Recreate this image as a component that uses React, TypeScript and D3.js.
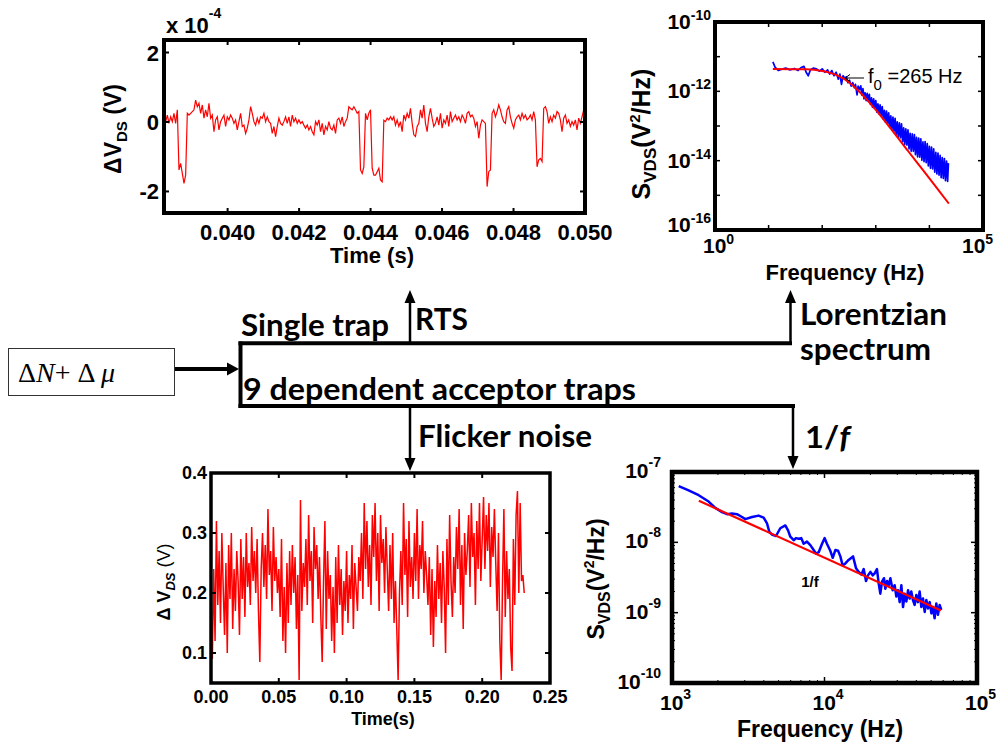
import React from 'react';
import * as d3 from 'd3';

const FONT = '"Liberation Sans", Arial, Helvetica, sans-serif';
const CAL = 'Lato, "Open Sans", sans-serif';

// ---------- Panel A: RTS time trace (values in 1e-4 V) ----------
const rtsT0 = 0.03822;
const rtsDt = 0.0000466;
const rtsValues = [
  0.15, 0.01, 0.20, -0.04, 0.15, 0.01, 0.25, -0.04, 0.35, -1.38,
  -1.19, -1.48, -1.77, -1.53, 0.25, 0.20, 0.25, 0.30, 0.35, 0.63,
  0.44, 0.54, 0.25, 0.49, 0.11, 0.35, 0.15, 0.54, 0.11, 0.20,
  -0.28, 0.06, 0.15, -0.23, 0.01, 0.11, 0.20, -0.13, 0.15, 0.06,
  0.20, 0.11, -0.04, 0.06, -0.23, 0.01, 0.25, -0.13, -0.09, -0.33,
  -0.18, 0.06, 0.44, 0.25, 0.01, -0.09, 0.11, -0.04, 0.15, 0.11,
  0.25, 0.01, 0.15, 0.01, -0.04, -0.33, -0.13, -0.42, -0.13, 0.11,
  -0.04, -0.09, 0.01, 0.15, -0.04, 0.15, -0.13, 0.20, 0.01, 0.11,
  -0.04, 0.06, -0.04, 0.01, -0.09, -0.18, -0.09, -0.23, -0.13, -0.28,
  -0.37, 0.01, -0.09, 0.06, -0.28, -0.04, -0.37, -0.13, -0.23, 0.01,
  -0.18, -0.23, -0.09, -0.33, 0.06, 0.11, -0.04, 0.15, -0.13, 0.01,
  0.11, 0.44, 0.39, 0.35, 0.44, 0.35, 0.25, 0.30, -1.38, -1.48,
  -1.29, 0.25, 0.06, 0.25, 0.35, -1.33, -1.53, -1.53, -1.43, -1.33,
  -1.67, -1.72, 0.05, 0.01, 0.11, 0.06, 0.15, 0.06, 0.15, -0.09,
  0.06, -0.13, 0.01, -0.28, 0.20, 0.06, 0.25, 0.11, 0.39, -0.04,
  -0.37, -0.42, -0.13, -0.04, 0.35, 0.11, 0.49, -0.04, -0.28, 0.15,
  0.39, 0.11, -0.13, -0.04, 0.15, -0.09, 0.25, -0.18, 0.06, -0.04,
  0.20, -0.13, 0.30, 0.01, 0.11, 0.20, 0.06, 0.15, 0.01, 0.20,
  0.11, -0.04, 0.25, 0.30, 0.15, 0.20, 0.11, -0.13, 0.01, -0.47,
  -0.09, 0.06, 0.01, -0.04, -1.86, -1.43, -1.38, 0.25, 0.35, 0.15,
  0.30, 0.49, 0.35, 0.15, 0.01, -0.04, 0.35, 0.44, 0.15, -0.04,
  -0.18, 0.06, 0.15, 0.20, 0.06, 0.25, 0.11, 0.20, 0.06, 0.11,
  0.20, 0.06, 0.30, 0.06, -1.29, -1.09, -1.05, -1.14, 0.39, 0.44,
  0.30, -0.04, 0.15, 0.01, 0.20, 0.11, 0.30, 0.25, 0.06, -0.28,
  0.11, 0.20, -0.04, 0.06, -0.13, 0.01, -0.09, 0.06, -0.23, 0.11,
  -0.04, 0.15, 0.35,
];
const rtsXTicks = [0.040, 0.042, 0.044, 0.046, 0.048, 0.050];
const rtsYTicks = [-2, 0, 2];

// ---------- Panel B: Lorentzian spectrum ----------
const lorFitFreq = [12, 50, 100, 150, 200, 265, 350, 500, 700, 1000, 2000, 4000, 8000, 15000, 23000];
const lorFitS = [4.4e-12, 4.3e-12, 3.85e-12, 3.3e-12, 2.8e-12, 2.2e-12, 1.6e-12, 9.6e-13, 5.5e-13, 2.9e-13, 7.6e-14, 1.9e-14, 4.8e-15, 1.37e-15, 5.8e-16];
const lorLogF = [
  1.08, 1.12, 1.18, 1.25, 1.32, 1.40, 1.48, 1.55, 1.60, 1.66, 1.70, 1.74, 1.78, 1.84, 1.90, 1.95, 2.00, 2.05, 2.10, 2.14,
  2.18, 2.22, 2.26, 2.30, 2.33, 2.36, 2.39, 2.42, 2.45, 2.48, 2.51, 2.54, 2.57, 2.60, 2.62, 2.65, 2.67, 2.70,
  2.72, 2.74, 2.76, 2.78, 2.80, 2.82, 2.84, 2.86, 2.88, 2.90, 2.92, 2.94, 2.96, 2.98, 3.00, 3.02, 3.04, 3.06, 3.08, 3.10,
  3.12, 3.14, 3.16, 3.18, 3.20, 3.22, 3.24, 3.26, 3.28, 3.30, 3.32, 3.34, 3.36, 3.38, 3.40, 3.42, 3.44, 3.46, 3.48, 3.50,
  3.52, 3.54, 3.56, 3.58, 3.60, 3.62, 3.64, 3.66, 3.68, 3.70, 3.72, 3.74, 3.76, 3.78, 3.80, 3.82, 3.84, 3.86, 3.88, 3.90,
  3.92, 3.94, 3.96, 3.98, 4.00, 4.02, 4.04, 4.06, 4.08, 4.10, 4.12, 4.14, 4.16, 4.18, 4.20, 4.22, 4.24, 4.26, 4.28, 4.30,
  4.32, 4.34, 4.355,
];
const lorLogS = [
  -11.15, -11.30, -11.40, -11.36, -11.33, -11.38, -11.34, -11.40, -11.32, -11.28, -11.45, -11.55, -11.38, -11.33, -11.36, -11.42, -11.35, -11.45, -11.38, -11.50,
  -11.40, -11.55, -11.45, -11.65, -11.50, -11.80, -11.55, -11.62, -11.58, -11.75, -11.68, -11.85, -11.75, -11.90, -11.80, -12.10, -11.85, -11.95,
  -11.84, -12.11, -11.92, -12.22, -12.04, -12.27, -12.06, -12.28, -12.09, -12.38, -12.19, -12.46, -12.22, -12.47, -12.27, -12.60, -12.36, -12.65, -12.39, -12.70,
  -12.44, -12.80, -12.55, -12.89, -12.57, -12.93, -12.62, -13.04, -12.71, -13.12, -12.74, -13.15, -12.78, -13.25, -12.88, -13.32, -12.91, -13.34, -12.94, -13.45,
  -13.05, -13.53, -13.08, -13.55, -13.11, -13.66, -13.21, -13.73, -13.23, -13.73, -13.25, -13.83, -13.33, -13.89, -13.35, -13.90, -13.37, -13.99, -13.46, -14.03,
  -13.45, -14.06, -13.51, -14.15, -13.59, -14.22, -13.61, -14.24, -13.66, -14.33, -13.76, -14.38, -13.78, -14.42, -13.85, -14.49, -13.91, -14.51, -13.94, -14.58,
  -14.01, -14.60, -14.07,
];
const lorYLabelExp = [-16, -14, -12, -10];
const lorXLabelExp = [0, 5];

// ---------- Panel C: flicker noise time trace (V) ----------
const flickDt = 0.001;
const flickValues = [
  0.17, 0.09, 0.24, 0.12, 0.32, 0.18, 0.27, 0.15, 0.30, 0.21,
  0.13, 0.25, 0.10, 0.28, 0.19, 0.30, 0.14, 0.24, 0.17, 0.27,
  0.22, 0.13, 0.29, 0.19, 0.26, 0.16, 0.30, 0.21, 0.25, 0.18,
  0.31, 0.22, 0.27, 0.20, 0.29, 0.17, 0.085, 0.24, 0.30, 0.21,
  0.28, 0.19, 0.34, 0.23, 0.27, 0.17, 0.31, 0.22, 0.26, 0.20,
  0.24, 0.16, 0.29, 0.12, 0.21, 0.10, 0.25, 0.15, 0.27, 0.18,
  0.28, 0.20, 0.26, 0.14, 0.23, 0.055, 0.355, 0.17, 0.25, 0.21,
  0.29, 0.18, 0.33, 0.22, 0.27, 0.15, 0.31, 0.24, 0.28, 0.19,
  0.26, 0.16, 0.085, 0.22, 0.32, 0.14, 0.27, 0.19, 0.23, 0.12,
  0.21, 0.10, 0.26, 0.15, 0.28, 0.18, 0.24, 0.13, 0.22, 0.17,
  0.27, 0.15, 0.23, 0.19, 0.28, 0.14, 0.25, 0.21, 0.17, 0.26,
  0.22, 0.30, 0.19, 0.35, 0.24, 0.32, 0.21, 0.28, 0.18, 0.33,
  0.26, 0.35, 0.22, 0.30, 0.17, 0.33, 0.25, 0.29, 0.20, 0.31,
  0.24, 0.17, 0.28, 0.19, 0.30, 0.15, 0.22, 0.14, 0.055, 0.20,
  0.27, 0.18, 0.35, 0.23, 0.29, 0.16, 0.32, 0.21, 0.26, 0.19,
  0.30, 0.22, 0.34, 0.19, 0.28, 0.24, 0.32, 0.20, 0.27, 0.23,
  0.18, 0.26, 0.13, 0.24, 0.11, 0.22, 0.16, 0.28, 0.19, 0.25,
  0.15, 0.27, 0.21, 0.10, 0.29, 0.18, 0.33, 0.22, 0.16, 0.26,
  0.20, 0.31, 0.24, 0.34, 0.18, 0.28, 0.14, 0.30, 0.23, 0.27,
  0.33, 0.21, 0.35, 0.26, 0.30, 0.18, 0.32, 0.24, 0.35, 0.22,
  0.29, 0.36, 0.24, 0.33, 0.27, 0.35, 0.21, 0.31, 0.26, 0.34,
  0.25, 0.17, 0.30, 0.12, 0.055, 0.22, 0.34, 0.16, 0.27, 0.19,
  0.24, 0.11, 0.07, 0.29, 0.18, 0.33, 0.37, 0.20, 0.35, 0.22,
  0.23, 0.20,
];
const flickXTicks = [0, 0.05, 0.10, 0.15, 0.20, 0.25];
const flickYTicks = [0.1, 0.2, 0.3, 0.4];

// ---------- Panel D: 1/f spectrum ----------
const oneFFitFreq = [1500, 58000];
const oneFFitS = [3.9e-8, 1.07e-9];
const oneFLogF = [
  3.044, 3.109, 3.175, 3.240, 3.284, 3.328, 3.361, 3.393, 3.426, 3.459, 3.481, 3.525, 3.568, 3.601, 3.623, 3.638, 3.656, 3.682, 3.710, 3.743,
  3.761, 3.776, 3.798, 3.813, 3.831, 3.848, 3.863, 3.885, 3.907, 3.929, 3.944, 3.962, 3.984, 4.001, 4.016, 4.038, 4.054, 4.071, 4.089, 4.104,
  4.119, 4.137, 4.158, 4.187, 4.207, 4.224, 4.242, 4.257, 4.272, 4.285, 4.301, 4.316, 4.329, 4.344, 4.355, 4.366, 4.377, 4.390, 4.399, 4.410,
  4.421, 4.432, 4.447, 4.460, 4.471, 4.482, 4.493, 4.504, 4.515, 4.526, 4.537, 4.548, 4.558, 4.569, 4.580, 4.591, 4.602, 4.613, 4.624, 4.635,
  4.646, 4.657, 4.668, 4.679, 4.690, 4.701, 4.711, 4.722, 4.733, 4.744, 4.755, 4.766,
];
const oneFLogS = [
  -7.20, -7.26, -7.33, -7.42, -7.51, -7.57, -7.60, -7.59, -7.60, -7.64, -7.67, -7.64, -7.62, -7.65, -7.73, -7.85, -7.89, -7.91, -7.80, -7.76,
  -7.83, -7.92, -7.97, -7.94, -7.95, -7.94, -8.02, -7.99, -8.04, -8.11, -8.16, -8.14, -8.02, -7.94, -8.02, -8.12, -8.22, -8.11, -8.12, -8.20,
  -8.33, -8.30, -8.25, -8.20, -8.37, -8.42, -8.46, -8.38, -8.55, -8.47, -8.42, -8.47, -8.44, -8.38, -8.58, -8.73, -8.56, -8.51, -8.66, -8.55,
  -8.61, -8.51, -8.68, -8.61, -8.77, -8.68, -8.85, -8.61, -8.92, -8.73, -8.84, -8.68, -8.80, -8.70, -8.82, -8.89, -8.75, -8.85, -8.70, -8.92,
  -8.80, -8.99, -8.82, -8.94, -8.85, -9.01, -8.92, -9.08, -8.87, -9.03, -8.89, -8.96,
];
const oneFYLabelExp = [-10, -9, -8, -7];
const oneFXLabelExp = [3, 4, 5];

function BoxTicks({ xs, ys, x0, x1, y0, y1, len, sw = 1.5 }: { xs: number[]; ys: number[]; x0: number; x1: number; y0: number; y1: number; len: number; sw?: number }) {
  return (
    <g stroke="#000" strokeWidth={sw}>
      {xs.map((x, i) => (
        <g key={'x' + i}>
          <line x1={x} x2={x} y1={y1} y2={y1 - len} />
          <line x1={x} x2={x} y1={y0} y2={y0 + len} />
        </g>
      ))}
      {ys.map((y, i) => (
        <g key={'y' + i}>
          <line x1={x0} x2={x0 + len} y1={y} y2={y} />
          <line x1={x1} x2={x1 - len} y1={y} y2={y} />
        </g>
      ))}
    </g>
  );
}

function Pow10({ x, y, exp, size, supSize, anchor = 'start', dy }: { x: number; y: number; exp: number; size: number; supSize: number; anchor?: string; dy: number }) {
  return (
    <text x={x} y={y} textAnchor={anchor} fontFamily={FONT} fontWeight="bold" fontSize={size}>
      <tspan>10</tspan>
      <tspan dy={dy} fontSize={supSize}>{String(exp)}</tspan>
    </text>
  );
}

export default function App() {
  // Panel A scales
  const xA = d3.scaleLinear().domain([0.03822, 0.05]).range([164, 585]);
  const yA = d3.scaleLinear().domain([-2.62, 2.36]).range([213, 40]);
  const rtsPath = d3.line<number>().x((_, i) => xA(rtsT0 + i * rtsDt)).y((d) => yA(d))(rtsValues) || '';

  // Panel B scales
  const xB = d3.scaleLog().domain([1, 1e5]).range([715, 983]);
  const yB = d3.scaleLog().domain([1e-16, 1e-10]).range([230, 22]);
  const lorBluePath = d3.line<number>().x((_, i) => xB(Math.pow(10, lorLogF[i]))).y((d) => yB(Math.pow(10, d)))(lorLogS) || '';
  const lorFitPath = d3.line<number>().x((_, i) => xB(lorFitFreq[i])).y((d) => yB(d)).curve(d3.curveMonotoneX)(lorFitS) || '';

  // Panel C scales
  const xC = d3.scaleLinear().domain([0, 0.25]).range([211, 550]);
  const yC = d3.scaleLinear().domain([0.05, 0.4]).range([683, 473]);
  const flickPath = d3.line<number>().x((_, i) => xC(i * flickDt)).y((d) => yC(d))(flickValues) || '';

  // Panel D scales
  const xD = d3.scaleLog().domain([1e3, 1e5]).range([672, 977]);
  const yD = d3.scaleLog().domain([1e-10, 1e-7]).range([683, 472]);
  const oneFBluePath = d3.line<number>().x((_, i) => xD(Math.pow(10, oneFLogF[i]))).y((d) => yD(Math.pow(10, d)))(oneFLogS) || '';
  const oneFFitPath = d3.line<number>().x((_, i) => xD(oneFFitFreq[i])).y((d) => yD(d))(oneFFitS) || '';

  const decB_y = d3.range(-16, -9).map((e) => yB(Math.pow(10, e)));
  const decB_x = d3.range(0, 6).map((e) => xB(Math.pow(10, e)));
  const minorD_x: number[] = [];
  [3, 4].forEach((e) => { for (let m = 2; m < 10; m++) minorD_x.push(xD(m * Math.pow(10, e))); });
  const minorD_y: number[] = [];
  [-10, -9, -8].forEach((e) => { for (let m = 2; m < 10; m++) minorD_y.push(yD(m * Math.pow(10, e))); });

  return (
    <svg width={997} height={744} viewBox="0 0 997 744" style={{ position: 'absolute', left: 0, top: 0, background: '#fff' }}>
      <defs>
        <clipPath id="clipA"><rect x={164} y={40} width={421} height={173} /></clipPath>
        <clipPath id="clipB"><rect x={715} y={22} width={268} height={208} /></clipPath>
        <clipPath id="clipC"><rect x={211} y={473} width={339} height={210} /></clipPath>
        <clipPath id="clipD"><rect x={672} y={472} width={305} height={211} /></clipPath>
      </defs>
      <rect x={0} y={0} width={997} height={744} fill="#fff" />

      {/* ===== Panel A ===== */}
      <path d={rtsPath} fill="none" stroke="#ff0000" strokeWidth={1.2} clipPath="url(#clipA)" />
      <BoxTicks xs={rtsXTicks.map(xA)} ys={rtsYTicks.map(yA)} x0={164} x1={585} y0={40} y1={213} len={5} sw={2} />
      <rect x={164} y={40} width={421} height={173} fill="none" stroke="#000" strokeWidth={4} />
      {rtsXTicks.map((t, i) => (
        <text key={i} x={xA(t)} y={240} textAnchor="middle" fontFamily={FONT} fontWeight="bold" fontSize={22}>{d3.format('.3f')(t)}</text>
      ))}
      {rtsYTicks.map((t, i) => (
        <text key={i} x={159} y={yA(t) + 8} textAnchor="end" fontFamily={FONT} fontWeight="bold" fontSize={22}>{String(t)}</text>
      ))}
      <text x={166} y={33} fontFamily={FONT} fontWeight="bold" fontSize={22}>
        x 10<tspan dy={-15} fontSize={14}>-4</tspan>
      </text>
      <text x={372} y={263} textAnchor="middle" fontFamily={FONT} fontWeight="bold" fontSize={22}>Time (s)</text>
      <text transform="translate(121,129) rotate(-90)" textAnchor="middle" fontFamily={FONT} fontWeight="bold" fontSize={23}>
        <tspan>ΔV</tspan>
        <tspan dy={6} fontSize={15}>DS</tspan>
        <tspan dy={-6}> (V)</tspan>
      </text>

      {/* ===== Panel B ===== */}
      <path d={lorBluePath} fill="none" stroke="#0000ff" strokeWidth={1.7} strokeLinejoin="round" clipPath="url(#clipB)" />
      <path d={lorFitPath} fill="none" stroke="#ff0000" strokeWidth={2} clipPath="url(#clipB)" />
      <BoxTicks xs={decB_x} ys={decB_y} x0={715} x1={983} y0={22} y1={230} len={5} sw={1.5} />
      <rect x={715} y={22} width={268} height={208} fill="none" stroke="#000" strokeWidth={4} />
      {lorYLabelExp.map((e, i) => (
        <Pow10 key={i} x={711} y={Math.min(yB(Math.pow(10, e)) + 7, 232)} exp={e} size={21} supSize={14} anchor="end" dy={-9} />
      ))}
      {lorXLabelExp.map((e, i) => (
        <Pow10 key={i} x={xB(Math.pow(10, e)) - (e === 5 ? 21 : 12)} y={253} exp={e} size={21} supSize={14} dy={-9} />
      ))}
      <text x={845} y={280} textAnchor="middle" fontFamily={FONT} fontWeight="bold" fontSize={22}>Frequency (Hz)</text>
      <text transform="translate(650,134) rotate(-90)" textAnchor="middle" fontFamily={FONT} fontWeight="bold" fontSize={25}>
        <tspan>S</tspan>
        <tspan dy={6} fontSize={17}>VDS</tspan>
        <tspan dy={-6}>(V</tspan>
        <tspan dy={-10} fontSize={15}>2</tspan>
        <tspan dy={10}>/Hz)</tspan>
      </text>
      <g stroke="#000" strokeWidth={1} fill="none">
        <line x1={845} y1={78} x2={864} y2={78} />
        <polyline points="850,74.5 845,78 850,81.5" />
      </g>
      <text x={868} y={83} fontFamily={FONT} fontSize={20}>
        f<tspan dy={7} fontSize={15}>0</tspan><tspan dy={-7}> =265 Hz</tspan>
      </text>

      {/* ===== Panel C ===== */}
      <path d={flickPath} fill="none" stroke="#ff0000" strokeWidth={1.5} clipPath="url(#clipC)" />
      <BoxTicks xs={flickXTicks.map(xC)} ys={flickYTicks.map(yC)} x0={211} x1={550} y0={473} y1={683} len={5} sw={2} />
      <rect x={211} y={473} width={339} height={210} fill="none" stroke="#000" strokeWidth={3.5} />
      {flickXTicks.map((t, i) => (
        <text key={i} x={xC(t)} y={703} textAnchor="middle" fontFamily={FONT} fontWeight="bold" fontSize={18}>{d3.format('.2f')(t)}</text>
      ))}
      {flickYTicks.map((t, i) => (
        <text key={i} x={207} y={yC(t) + 6} textAnchor="end" fontFamily={FONT} fontWeight="bold" fontSize={18}>{d3.format('.1f')(t)}</text>
      ))}
      <text x={383} y={725} textAnchor="middle" fontFamily={FONT} fontWeight="bold" fontSize={18}>Time(s)</text>
      <text transform="translate(170,582) rotate(-90)" textAnchor="middle" fontFamily={FONT} fontSize={18}>
        <tspan fontWeight="bold">Δ V</tspan>
        <tspan dy={5} fontSize={13} fontWeight="bold" fontStyle="italic">DS</tspan>
        <tspan dy={-5}> (V)</tspan>
      </text>

      {/* ===== Panel D ===== */}
      <path d={oneFBluePath} fill="none" stroke="#0000ff" strokeWidth={2.5} strokeLinejoin="round" clipPath="url(#clipD)" />
      <path d={oneFFitPath} fill="none" stroke="#ff0000" strokeWidth={2.2} clipPath="url(#clipD)" />
      <BoxTicks xs={oneFXLabelExp.map((e) => xD(Math.pow(10, e)))} ys={oneFYLabelExp.map((e) => yD(Math.pow(10, e)))} x0={672} x1={977} y0={472} y1={683} len={6} sw={1.5} />
      <BoxTicks xs={minorD_x} ys={minorD_y} x0={672} x1={977} y0={472} y1={683} len={3} sw={1} />
      <rect x={672} y={472} width={305} height={211} fill="none" stroke="#000" strokeWidth={4.5} />
      {oneFYLabelExp.map((e, i) => (
        <Pow10 key={i} x={661} y={yD(Math.pow(10, e)) + 6} exp={e} size={21} supSize={14} anchor="end" dy={-11} />
      ))}
      {oneFXLabelExp.map((e, i) => (
        <Pow10 key={i} x={xD(Math.pow(10, e)) - 12} y={710} exp={e} size={21} supSize={14} dy={-11} />
      ))}
      <text x={820} y={737} textAnchor="middle" fontFamily={FONT} fontWeight="bold" fontSize={23}>Frequency (Hz)</text>
      <text transform="translate(604,579) rotate(-90)" textAnchor="middle" fontFamily={FONT} fontWeight="bold" fontSize={23}>
        <tspan>S</tspan>
        <tspan dy={6} fontSize={16}>VDS</tspan>
        <tspan dy={-6}>(V</tspan>
        <tspan dy={-10} fontSize={14}>2</tspan>
        <tspan dy={10}>/Hz)</tspan>
      </text>
      <text x={810} y={587} textAnchor="middle" fontFamily={FONT} fontWeight="bold" fontSize={15}>1/f</text>

      {/* ===== Flow diagram ===== */}
      <rect x={8.5} y={348.5} width={166} height={47} fill="#fff" stroke="#333" strokeWidth={1} />
      <text x={18} y={382} fontFamily='"Liberation Serif", "Times New Roman", serif' fontSize={28}>
        <tspan>Δ</tspan><tspan fontStyle="italic">N</tspan><tspan>+ Δ </tspan><tspan fontStyle="italic">μ</tspan>
      </text>
      <g stroke="#000" fill="none">
        <line x1={175} y1={369} x2={229} y2={369} strokeWidth={4} />
        <line x1={240.5} y1={341.5} x2={240.5} y2={408} strokeWidth={4} />
        <line x1={238.5} y1={343.3} x2={792} y2={343.3} strokeWidth={4} />
        <line x1={238.5} y1={406} x2={795} y2={406} strokeWidth={4} />
        <line x1={410} y1={343} x2={410} y2={300} strokeWidth={2.5} />
        <line x1={790.5} y1={345} x2={790.5} y2={300} strokeWidth={2.5} />
        <line x1={410} y1={406} x2={410} y2={460} strokeWidth={2.5} />
        <line x1={793} y1={406} x2={793} y2={458} strokeWidth={2.5} />
      </g>
      <g fill="#000">
        <path d="M239,369 L227,362.5 L227,375.5 Z" />
        <path d="M410,290 L404.5,303 L415.5,303 Z" />
        <path d="M790.5,290 L785,303 L796,303 Z" />
        <path d="M410,471 L404.5,458 L415.5,458 Z" />
        <path d="M793,469 L787.5,456 L798.5,456 Z" />
      </g>
      <g fontFamily={CAL} fontWeight="bold" fontSize={30}>
        <text x={241} y={336} textLength={148} lengthAdjust="spacingAndGlyphs">Single trap</text>
        <text x={415} y={330} textLength={53} lengthAdjust="spacingAndGlyphs">RTS</text>
        <text x={243} y={400} textLength={393} lengthAdjust="spacingAndGlyphs">9 dependent acceptor traps</text>
        <text x={418} y={447} textLength={174} lengthAdjust="spacingAndGlyphs">Flicker noise</text>
        <text x={800} y={325} textLength={147} lengthAdjust="spacingAndGlyphs">Lorentzian</text>
        <text x={800} y={360} textLength={131} lengthAdjust="spacingAndGlyphs">spectrum</text>
        <text x={805} y={448} textLength={45} lengthAdjust="spacingAndGlyphs">1/<tspan fontStyle="italic">f</tspan></text>
      </g>
    </svg>
  );
}
